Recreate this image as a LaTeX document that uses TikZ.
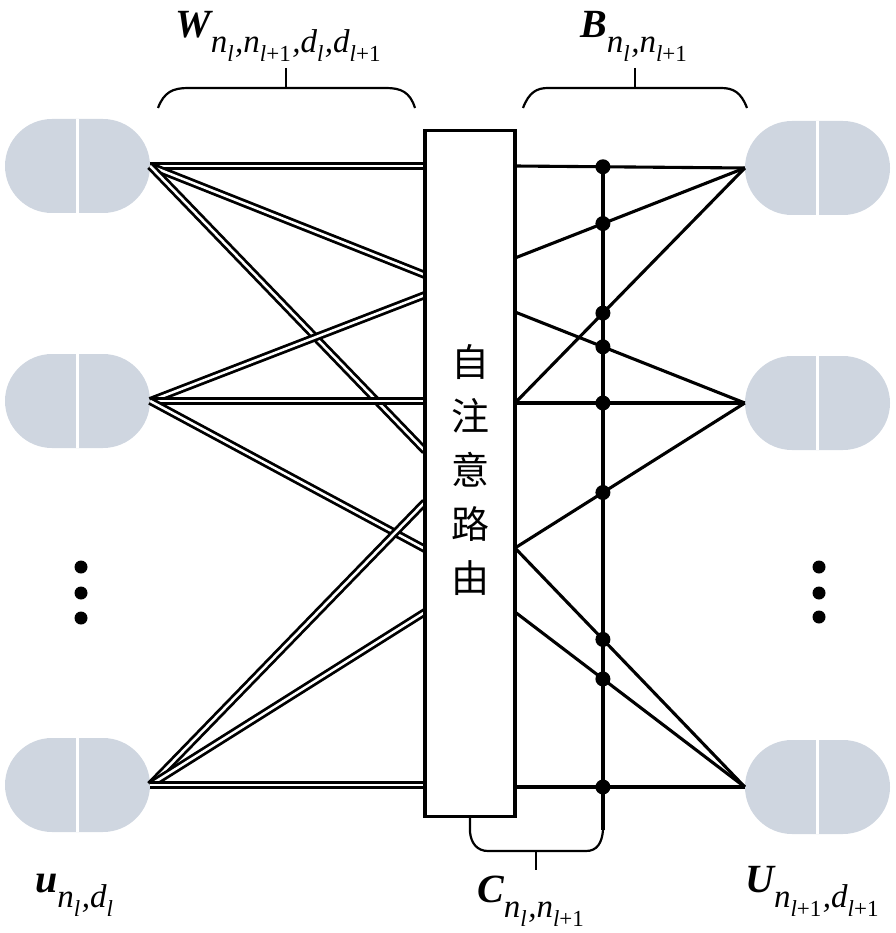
\documentclass[tikz,border=0pt]{standalone}
\usepackage{fontspec}
\setmainfont{Liberation Serif}
\newfontfamily\cjk{Noto Sans CJK SC}
\usetikzlibrary{calc}
\definecolor{capfill}{RGB}{207,214,224}
\newcommand{\mainsym}[1]{{\fontsize{40}{40}\selectfont\bfseries\itshape #1}}
\newcommand{\subtxt}[1]{\raisebox{-15pt}{\fontsize{33}{33}\selectfont\itshape #1}}
\newcommand{\ssub}[1]{\raisebox{-9pt}{\fontsize{23}{23}\selectfont #1}\kern1.5pt}
\newcommand{\lp}{l{\upshape +1}}
\begin{document}
\begin{tikzpicture}[x=1pt,y=-1pt,
  capsule/.style={draw=none,fill=capfill,rounded corners=47pt,minimum width=145pt,minimum height=94pt,inner sep=0pt},
  splitline/.style={white,line width=3pt},
  wline/.style={line width=2.8pt,double=white,double distance=2.5pt},
  bline/.style={line width=3.1pt},
  routerbox/.style={draw,line width=3.6pt,fill=white,minimum width=89.5pt,minimum height=686pt,inner sep=0pt},
  jdot/.style={circle,fill=black,inner sep=0pt,minimum size=15pt},
  edot/.style={circle,fill=black,inner sep=0pt,minimum size=13pt},
  brace/.style={line width=2.2pt},
  lbl/.style={anchor=base west,inner sep=0pt}]
\useasboundingbox (0,0) rectangle (895,933);

% capsules
\node[capsule] (cl1) at (77.5,166) {};
\node[capsule] (cl2) at (77.5,401) {};
\node[capsule] (cl3) at (77.5,785) {};
\node[capsule] (cr1) at (817.5,168) {};
\node[capsule] (cr2) at (817.5,403) {};
\node[capsule] (cr3) at (817.5,787) {};
\foreach \c in {cl1,cl2,cl3,cr1,cr2,cr3}
  \draw[splitline] (\c.north) -- (\c.south);

% ellipsis dots
\node[edot] (dl1) at (81,567) {};
\node[edot] (dl2) at (81,593) {};
\node[edot] (dl3) at (81,618) {};
\node[edot] (dr1) at (819,567) {};
\node[edot] (dr2) at (819,593) {};
\node[edot] (dr3) at (819,617) {};

% left edge points of the router box
\foreach \n/\y in {a/166,b/275,c/295,d/401,e/451,f/502,g/549,h/612,i/785}
  \coordinate (L\n) at (425,\y);
% right edge points of the router box
\foreach \n/\y in {a/166,b/258,c/312,d/403,e/548,f/612,g/787}
  \coordinate (R\n) at (515,\y);

% double weight lines
\draw[wline] (cl1.east) -- (La);
\draw[wline] (cl1.east) -- (Lb);
\draw[wline] (cl1.east) -- (Le);
\draw[wline] (cl2.east) -- (Lc);
\draw[wline] (cl2.east) -- (Ld);
\draw[wline] (cl2.east) -- (Lg);
\draw[wline] (cl3.east) -- (Lf);
\draw[wline] (cl3.east) -- (Lh);
\draw[wline] (cl3.east) -- (Li);

% coupling lines
\coordinate (vtop) at (603,167);
\coordinate (vbot) at (603,830);
\draw[bline] (vtop) -- (vbot);
\foreach \s/\t in {Ra/cr1,Rb/cr1,Rd/cr1,Rc/cr2,Rd/cr2,Re/cr2,Re/cr3,Rf/cr3,Rg/cr3}{
  \draw[bline] (\s) -- (\t.west);
  \node[jdot] at ($(\s)!0.3826!(\t.west)$) {};
}

% router box
\node[routerbox] (router) at (470,473.6) {};
\node[inner sep=0pt,align=center,font=\cjk\fontsize{38}{54}\selectfont] (rtext) at (470,470) {自\\注\\意\\路\\由};

% top braces
\coordinate (w1) at (158,108);
\coordinate (w2) at (415,108);
\coordinate (wt) at (286,68);
\draw[brace] (w1) .. controls (164,92) and (173,88) .. (188,88) -- (386,88) .. controls (401,88) and (410,92) .. (w2);
\draw[brace] (wt) -- (286,88);
\coordinate (b1) at (523,108);
\coordinate (b2) at (747,108);
\coordinate (bt) at (635,68);
\draw[brace] (b1) .. controls (529,92) and (537,88) .. (548,88) -- (721,88) .. controls (733,88) and (741,92) .. (b2);
\draw[brace] (bt) -- (635,88);

% bottom brace
\coordinate (c1) at (470,818);
\coordinate (ct) at (536,870);
\draw[brace] (c1) -- (470,832) .. controls (471,843) and (477,851) .. (488,851) -- (586,851) .. controls (597,851) and (602,843) .. (vbot);
\draw[brace] (536,851) -- (ct);

% labels
\node[lbl] (Wlab) at (175,38) {\mainsym{W}\subtxt{n\ssub{l},n\ssub{\lp},d\ssub{l},d\ssub{\lp}}};
\node[lbl] (Blab) at (580,38) {\mainsym{B}\subtxt{n\ssub{l},n\ssub{\lp}}};
\node[lbl] (ulab) at (35,892) {\mainsym{u}\subtxt{n\ssub{l},d\ssub{l}}};
\node[lbl] (Clab) at (477,902) {\mainsym{C}\subtxt{n\ssub{l},n\ssub{\lp}}};
\node[lbl] (Ulab) at (745,892) {\mainsym{U}\subtxt{n\ssub{\lp},d\ssub{\lp}}};
\end{tikzpicture}
\end{document}
